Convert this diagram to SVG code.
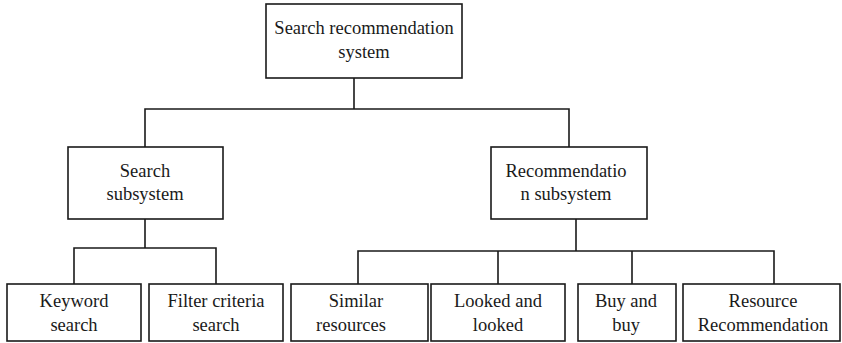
<svg xmlns="http://www.w3.org/2000/svg" width="842" height="343" viewBox="0 0 842 343">
  <style>
    .box { fill: #ffffff; stroke: #1a1a1a; stroke-width: 1.6; }
    .link { fill: none; stroke: #1a1a1a; stroke-width: 1.6; }
    .lbl { font-family: 'Liberation Serif', 'Times New Roman', serif; font-size: 18.5px; fill: #1a1a1a; text-anchor: middle; }
  </style>

  <!-- connectors -->
  <g id="connectors">
    <path class="link" d="M354 78 V109 M145 147 V109 H569 V147"/>
    <path class="link" d="M145 219 V248 M74 284 V248 H216 V284"/>
    <path class="link" d="M576 219 V251 M358 284 V251 H774 V284 M498 251 V284 M632 251 V284"/>
  </g>

  <g id="root">
    <rect class="box" x="266" y="4" width="196" height="74"/>
    <text class="lbl" x="364" y="34">Search recommendation</text>
    <text class="lbl" x="364" y="58">system</text>
  </g>

  <g id="search-subsystem">
    <rect class="box" x="68" y="147" width="155" height="72"/>
    <text class="lbl" x="145" y="177">Search</text>
    <text class="lbl" x="145" y="200">subsystem</text>
  </g>

  <g id="recommendation-subsystem">
    <rect class="box" x="491" y="147" width="156" height="72"/>
    <text class="lbl" x="566" y="177">Recommendatio</text>
    <text class="lbl" x="566" y="200">n subsystem</text>
  </g>

  <g id="keyword-search">
    <rect class="box" x="7" y="284" width="134" height="57"/>
    <text class="lbl" x="74" y="307">Keyword</text>
    <text class="lbl" x="74" y="331">search</text>
  </g>

  <g id="filter-criteria-search">
    <rect class="box" x="149" y="284" width="134" height="57"/>
    <text class="lbl" x="216" y="307">Filter criteria</text>
    <text class="lbl" x="216" y="331">search</text>
  </g>

  <g id="similar-resources">
    <rect class="box" x="291" y="284" width="137" height="57"/>
    <text class="lbl" x="356" y="307">Similar</text>
    <text class="lbl" x="351" y="331">resources</text>
  </g>

  <g id="looked-and-looked">
    <rect class="box" x="431" y="284" width="134" height="57"/>
    <text class="lbl" x="498" y="307">Looked and</text>
    <text class="lbl" x="498" y="331">looked</text>
  </g>

  <g id="buy-and-buy">
    <rect class="box" x="578" y="284" width="98" height="57"/>
    <text class="lbl" x="626" y="307">Buy and</text>
    <text class="lbl" x="626" y="331">buy</text>
  </g>

  <g id="resource-recommendation">
    <rect class="box" x="683" y="284" width="157" height="57"/>
    <text class="lbl" x="763" y="307">Resource</text>
    <text class="lbl" x="763" y="331">Recommendation</text>
  </g>
</svg>
